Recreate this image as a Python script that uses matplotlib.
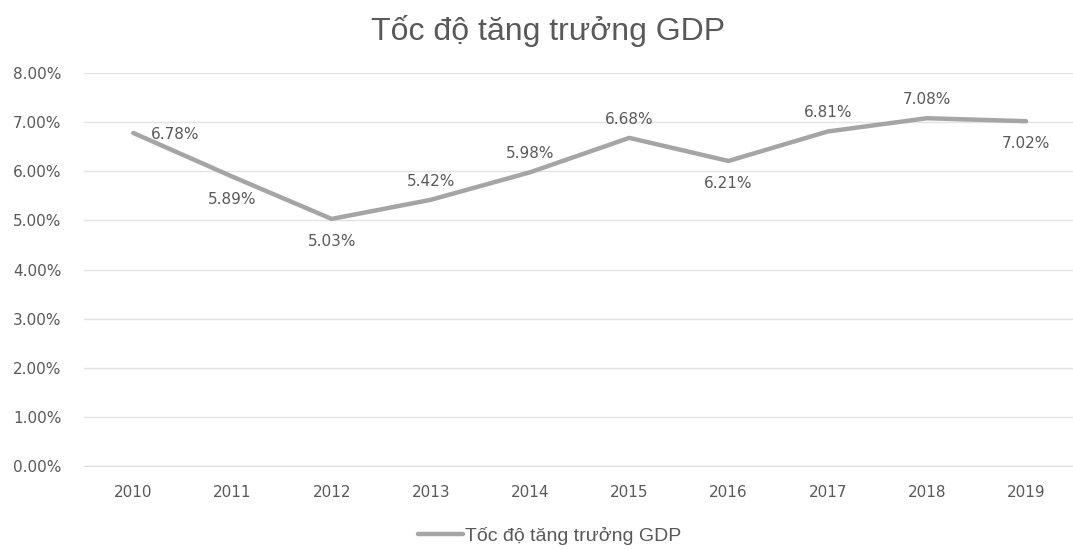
import matplotlib
matplotlib.use("Agg")
import matplotlib.pyplot as plt
from matplotlib.ticker import FuncFormatter

years = ['2010', '2011', '2012', '2013', '2014', '2015', '2016', '2017', '2018', '2019']
gdp_growth = [6.78, 5.89, 5.03, 5.42, 5.98, 6.68, 6.21, 6.81, 7.08, 7.02]
label_pos = ['right', 'below', 'below', 'above', 'above', 'above', 'below', 'above', 'above', 'below']
series_name = 'Tốc độ tăng trưởng GDP'
title = 'Tốc độ tăng trưởng GDP'

line_color = '#a5a5a5'
text_color = '#595959'
num_font = 'DejaVu Sans'

plt.rcParams['font.family'] = ['Liberation Sans', 'DejaVu Sans']

fig = plt.figure(figsize=(10.73, 5.5), dpi=100)
ax = fig.add_axes([0.078, 0.1527, 0.9245, 0.7145])

x = list(range(len(years)))
ax.plot(x, gdp_growth, color=line_color, linewidth=3.2, solid_capstyle='round',
        solid_joinstyle='round', label=series_name, zorder=3)

# data labels, placed like the original chart
for xi, v, pos in zip(x, gdp_growth, label_pos):
    txt = '%.2f%%' % v
    if pos == 'right':
        ax.annotate(txt, (xi, v), xytext=(13, -1), textcoords='offset points',
                    ha='left', va='center', fontsize=11, color=text_color, family=num_font)
    elif pos == 'above':
        ax.annotate(txt, (xi, v), xytext=(0, 8), textcoords='offset points',
                    ha='center', va='bottom', fontsize=11, color=text_color, family=num_font)
    else:
        ax.annotate(txt, (xi, v), xytext=(0, -11), textcoords='offset points',
                    ha='center', va='top', fontsize=11, color=text_color, family=num_font)

ax.set_xlim(-0.5, len(years) - 0.5)
ax.set_ylim(0, 8)
ax.set_yticks(range(0, 9))
ax.yaxis.set_major_formatter(FuncFormatter(lambda v, p: '%.2f%%' % v))
ax.set_xticks(x)
ax.set_xticklabels(years)
ax.tick_params(axis='both', length=0, labelsize=11, colors=text_color, labelfontfamily=num_font)
ax.tick_params(axis='x', pad=14)
ax.tick_params(axis='y', pad=16)

ax.grid(axis='y', color='#e3e3e3', linewidth=1)
ax.set_axisbelow(True)
for s in ['top', 'right', 'left']:
    ax.spines[s].set_visible(False)
ax.spines['bottom'].set_color('#dddddd')

fig.text(0.511, 0.943, title, ha='center', va='center', fontsize=23, color=text_color)

leg = ax.legend(loc='center', bbox_to_anchor=(0.47, -0.178), frameon=False, fontsize=14,
                handlelength=2.3, handletextpad=0.1, labelcolor=text_color)

fig.savefig('out.png', dpi=100)
